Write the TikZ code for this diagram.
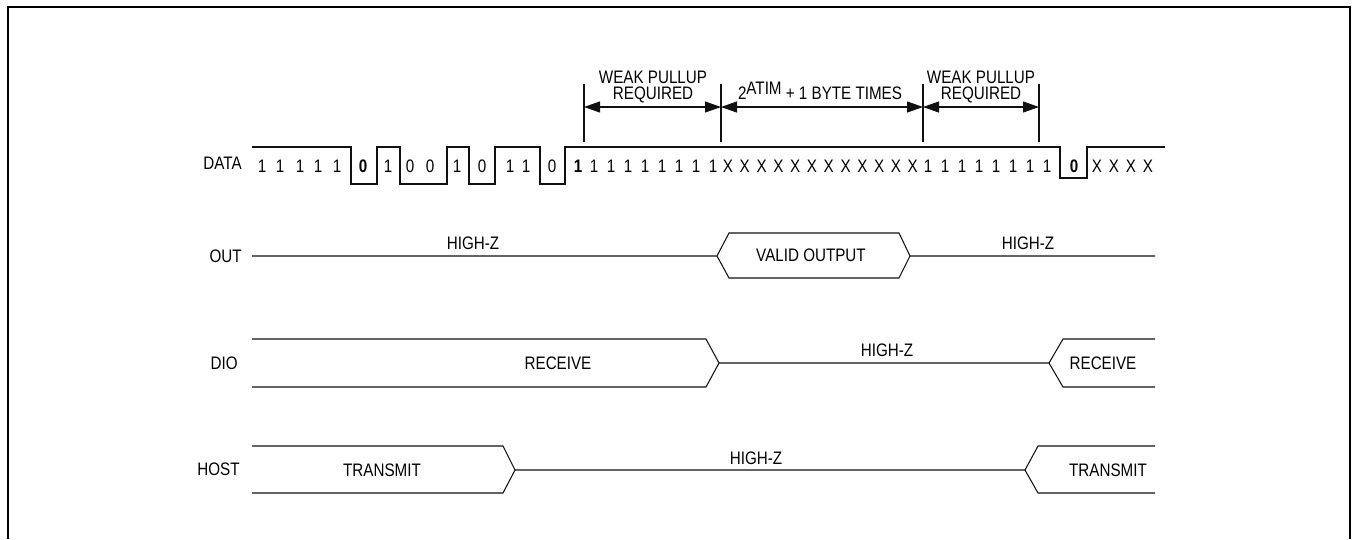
\documentclass[tikz,border=0pt]{standalone}
\usepackage{fontspec}
\setmainfont{Liberation Sans}[FakeStretch=0.84]
\usepackage{tikz}
\usepackage{xcolor}
\definecolor{tdLine}{HTML}{111111}
\definecolor{tdFrame}{HTML}{000000}
\usetikzlibrary{arrows.meta}

\tikzset{
  sig/.style={tdLine, line width=0.6pt, line join=miter},
  marker/.style={tdLine, line width=0.6pt},
  dimarrow/.style={tdLine, line width=0.6pt,
    {Triangle[length=0.32cm,width=0.22cm]}-{Triangle[length=0.32cm,width=0.22cm]}},
  lbl/.style={inner sep=0pt}
}

\begin{document}
\begin{tikzpicture}[x=0.02cm, y=-0.02cm, font=\fontsize{10.3}{12}\selectfont]
  \useasboundingbox (0,0) rectangle (1356,539);
  \draw[tdFrame, line width=1.1pt] (8,539) -- (8,7) -- (1350,7) -- (1350,539);

  \node[lbl, anchor=east] (DATA) at (242,163) {DATA};
  \node[lbl, anchor=east] (OUT) at (242,256) {OUT};
  \node[lbl, anchor=east] (DIO) at (238,363) {DIO};
  \node[lbl, anchor=east] (HOST) at (240,469) {HOST};

  \draw[sig] (252,147) -- (351,147) -- (351,184) -- (377,184) -- (377,147) -- (400,147) -- (400,184)
    -- (447,184) -- (447,147) -- (469,147) -- (469,184) -- (495,184) -- (495,147) -- (540,147)
    -- (540,184) -- (565,184) -- (565,147) -- (1060,147) -- (1060,178) -- (1087,178) -- (1087,147) -- (1165,147);
  \foreach \x/\b [count=\k] in {262/1,280/1,300/1,318/1,337/1,363/\textbf{0},388/1,410/0,430/0,457/1,
      482/0,510/1,526/1,552/0,578/\textbf{1},594/1,611/1,628/1,645/1,662/1,679/1,696/1,713/1}
    \node[lbl] (d\k) at (\x,166) {\b};
  \foreach \i in {0,...,11}
    \node[lbl] (x\i) at (728+16.8*\i,166) {X};
  \foreach \i in {0,...,7}
    \node[lbl] (e\i) at (928+17*\i,166) {1};
  \node[lbl] (z) at (1074,166) {\textbf{0}};
  \foreach \i in {0,...,3}
    \node[lbl] (t\i) at (1097+17*\i,166) {X};

  \coordinate (m1) at (584,107);
  \coordinate (m2) at (721,107);
  \coordinate (m3) at (923,107);
  \coordinate (m4) at (1039,107);
  \draw[marker] (584,84) -- (584,142);
  \draw[marker] (721,84) -- (721,142);
  \draw[marker] (923,84) -- (923,142);
  \draw[marker] (1039,84) -- (1039,142);
  \draw[dimarrow] (m1) -- (m2);
  \draw[dimarrow] (m2) -- (m3);
  \draw[dimarrow] (m3) -- (m4);
  \node[lbl, anchor=base] (wp1) at (653,83) {WEAK PULLUP};
  \node[lbl, anchor=base] (rq1) at (653,99) {REQUIRED};
  \node[lbl, anchor=base] (bt) at (820,99) {2\raisebox{2.5pt}{ATIM} + 1 BYTE TIMES};
  \node[lbl, anchor=base] (wp2) at (981,83) {WEAK PULLUP};
  \node[lbl, anchor=base] (rq2) at (981,99) {REQUIRED};

  \draw[sig] (252,256) -- (717,256) -- (729,233) -- (899,233) -- (910,256) -- (1155,256);
  \draw[sig] (717,256) -- (729,278) -- (899,278) -- (910,256);
  \node[lbl] (hz1) at (473,243) {HIGH-Z};
  \node[lbl] (vo) at (811,255) {VALID OUTPUT};
  \node[lbl] (hz2) at (1028,243) {HIGH-Z};

  \draw[sig] (252,339) -- (706,339) -- (719,363) -- (706,387) -- (252,387);
  \draw[sig] (719,363) -- (1049,363) -- (1063,339) -- (1155,339);
  \draw[sig] (1049,363) -- (1063,387) -- (1155,387);
  \node[lbl] (rx1) at (558,363) {RECEIVE};
  \node[lbl] (hz3) at (887,350) {HIGH-Z};
  \node[lbl] (rx2) at (1103,363) {RECEIVE};

  \draw[sig] (252,446) -- (503,446) -- (515,470) -- (503,493) -- (252,493);
  \draw[sig] (515,470) -- (1025,470) -- (1038,446) -- (1155,446);
  \draw[sig] (1025,470) -- (1038,493) -- (1155,493);
  \node[lbl] (tx1) at (382,470) {TRANSMIT};
  \node[lbl] (hz4) at (756,458) {HIGH-Z};
  \node[lbl] (tx2) at (1108,470) {TRANSMIT};
\end{tikzpicture}
\end{document}
